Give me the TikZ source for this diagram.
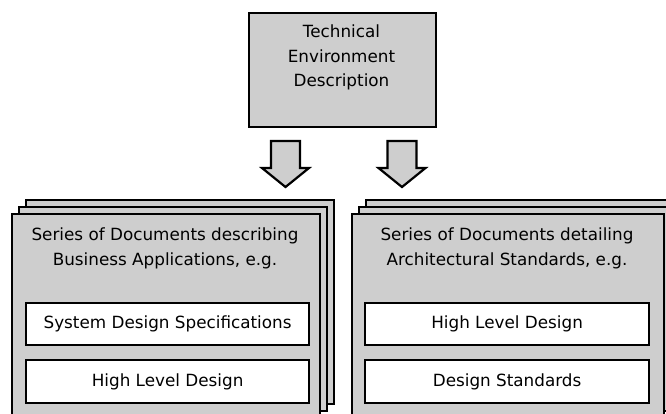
\documentclass[tikz,border=0pt]{standalone}
\usepackage{fontspec}
\setmainfont{DejaVu Sans}
\definecolor{sheetgray}{RGB}{206,206,206}
\begin{document}
\begin{tikzpicture}[x=1pt,y=-1pt,
  sheet/.style={draw=black,line width=2.2pt,fill=sheetgray,inner sep=0pt,anchor=north west},
  item/.style={draw=black,line width=2.2pt,fill=white,inner sep=0pt,anchor=north west},
  itemtxt/.style={font=\fontsize{16.8}{20}\selectfont,inner sep=0pt},
  blockarrow/.style={draw=black,line width=2.2pt,fill=sheetgray,line join=miter},
  title/.style={font=\fontsize{16.8}{24.5}\selectfont,align=center,inner sep=0pt,anchor=north}]
\clip (0,0) rectangle (666,413);
\fill[white] (0,0) rectangle (666,413);

% source box
\node[sheet,minimum width=187pt,minimum height=114pt] (tech) at (248,12) {};
\node[title] (techtxt) at (341.5,25) {Technical\\Environment\\Description};

% block arrows leading down to the two document stacks
\coordinate (arrL) at (285.5,141);
\coordinate (arrR) at (402,141);
\foreach \a in {arrL,arrR}{
  \draw[blockarrow,shift={(\a)}] (-14.5,0) -- (14.5,0) -- (14.5,27) -- (23.5,27)
    -- (0,46) -- (-23.5,27) -- (-14.5,27) -- cycle;
}

% left stack of documents
\node[sheet,minimum width=308pt,minimum height=204pt] (lback) at (25,199) {};
\node[sheet,minimum width=308pt,minimum height=204pt] (lmid) at (18,206) {};
\node[sheet,minimum width=308pt,minimum height=204pt] (lfront) at (11,213) {};
\node[title] (ltitle) at (165,228) {Series of Documents describing\\Business Applications, e.g.};
\node[item,minimum width=283pt,minimum height=42pt] (lsds) at (25,302) {};
\node[itemtxt] at (lsds.center) {System Design Specifications};
\node[item,minimum width=283pt,minimum height=43pt] (lhld) at (25,359) {};
\node[itemtxt] at (lhld.center) {High Level Design};

% right stack of documents
\node[sheet,minimum width=312pt,minimum height=204pt] (rback) at (365,199) {};
\node[sheet,minimum width=312pt,minimum height=204pt] (rmid) at (358,206) {};
\node[sheet,minimum width=312pt,minimum height=204pt] (rfront) at (351,213) {};
\node[title] (rtitle) at (507,228) {Series of Documents detailing\\Architectural Standards, e.g.};
\node[item,minimum width=284pt,minimum height=42pt] (rhld) at (364,302) {};
\node[itemtxt] at (rhld.center) {High Level Design};
\node[item,minimum width=284pt,minimum height=43pt] (rds) at (364,359) {};
\node[itemtxt] at (rds.center) {Design Standards};
\end{tikzpicture}
\end{document}
